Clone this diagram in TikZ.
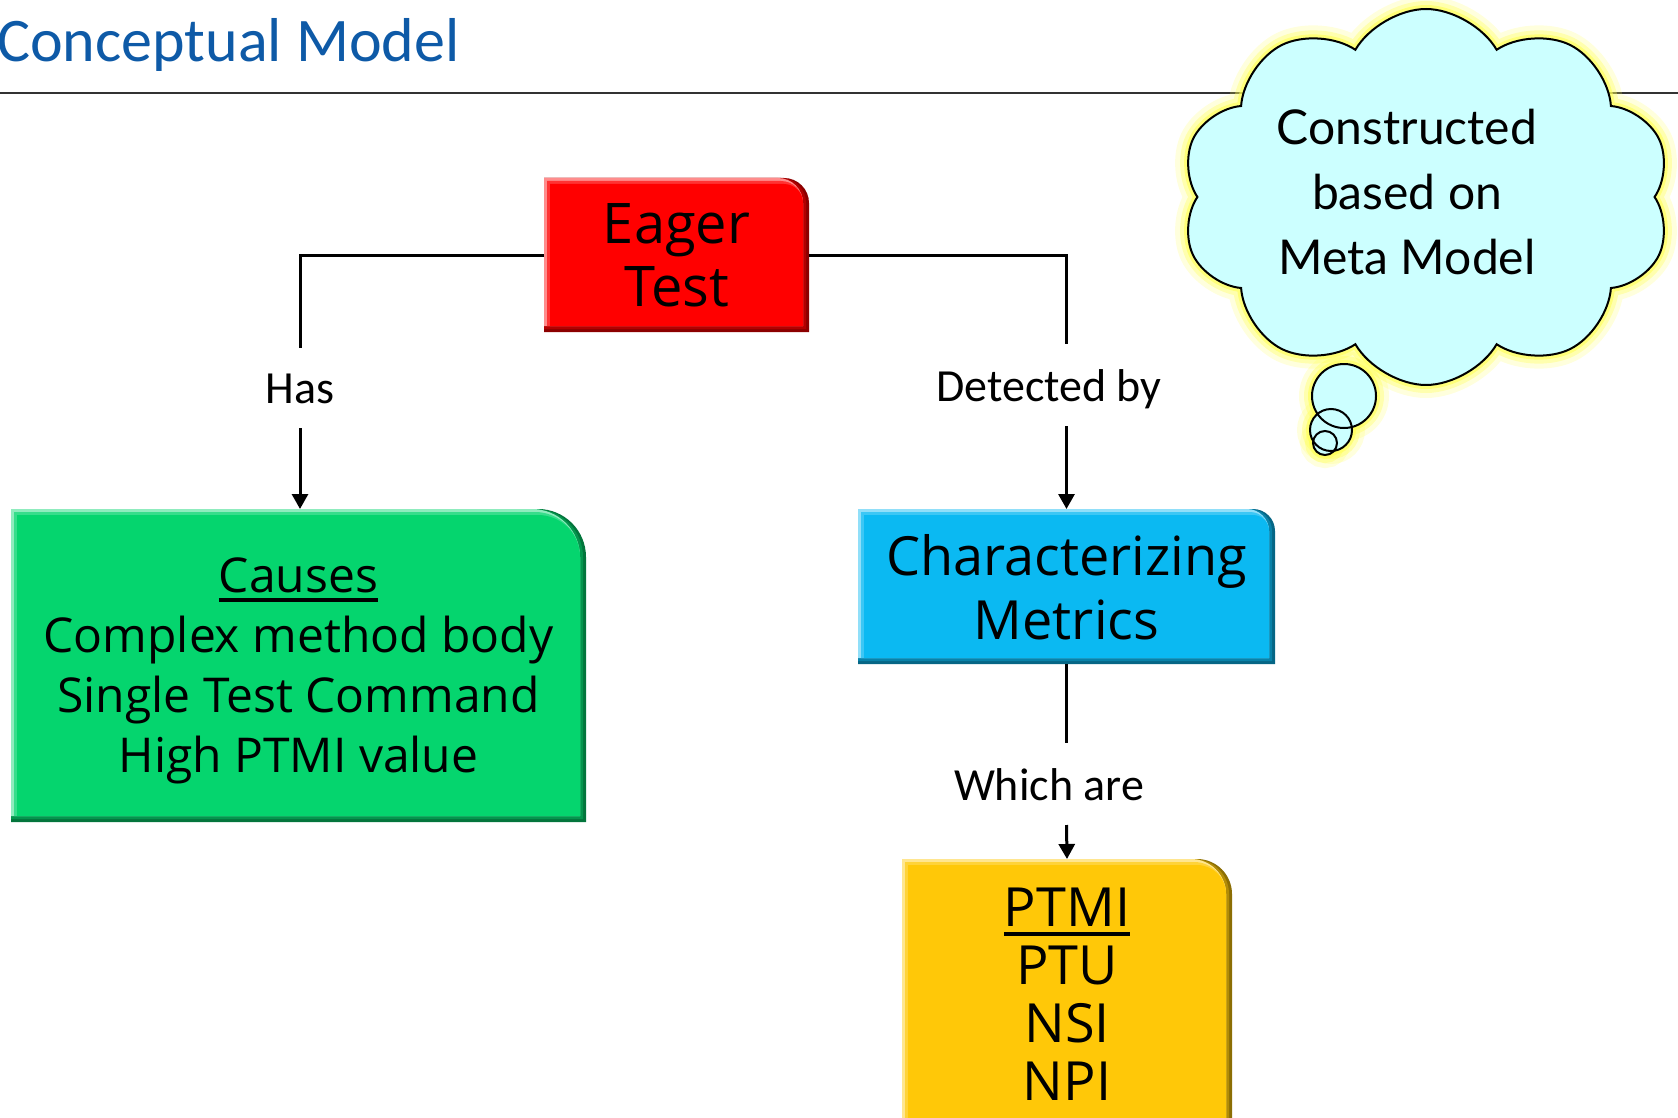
\documentclass[tikz,border=0pt]{standalone}
\usepackage{fontspec}
\usetikzlibrary{arrows.meta,calc,shapes.symbols}
\setmainfont{Open Sans}
\newfontfamily\calibrifont{Carlito}
\newfontfamily\handfont{Lato}
\definecolor{heading}{HTML}{0E5AA7}
\definecolor{rulegray}{HTML}{333333}
\definecolor{eagerred}{HTML}{FF0000}
\definecolor{causegreen}{HTML}{05D56E}
\definecolor{metricblue}{HTML}{0BB9F2}
\definecolor{ptmigold}{HTML}{FFC808}
\definecolor{cloudcyan}{HTML}{CCFFFF}
\definecolor{glowyellow}{HTML}{FFFF55}
% box with one rounded corner (top right); insets left/top/right/bottom, radius
\newcommand\tabpath[5]{%
  ([shift={(#1,#4)}]path picture bounding box.south west)
  |- ([shift={({-#3-(#5)},{-#2})}]path picture bounding box.north east)
  arc[start angle=90,end angle=0,radius={#5}]
  -- ([shift={(-#3,#4)}]path picture bounding box.south east) -- cycle}
\newcommand\ulword[1]{\setbox0=\hbox{#1}\rlap{\rule[-9pt]{\wd0}{3.5pt}}\box0}

\begin{document}
\begin{tikzpicture}[x=1pt,y=1pt,>={Triangle[width=16pt,length=15pt]},
  link/.style={line width=3pt},
  tag/.style={anchor=base,inner sep=0pt,outer sep=25pt,text depth=0pt,
    font=\calibrifont\fontsize{46}{50}\selectfont},
  tabbox/.style 2 args={rectangle,inner sep=0pt,outer sep=0pt,align=center,text depth=0pt,
    path picture={
      \fill[#1!55!black] \tabpath{0}{0}{0}{0}{#2};
      \fill[#1!70!black] \tabpath{0}{0}{3}{3}{#2};
      \fill[#1!45!white] \tabpath{0}{0}{6}{6}{#2};
      \fill[#1!80!white] \tabpath{3}{3}{6}{6}{#2-3};
      \fill[#1] \tabpath{6}{6}{6}{6}{#2-6};
    }},
  glow/.style={preaction={draw=glowyellow,line width=26pt,opacity=.2},
    preaction={draw=glowyellow,line width=16pt,opacity=.35},
    preaction={draw=glowyellow,line width=8pt,opacity=.6}},
  bubble/.style={circle,inner sep=0pt,outer sep=0pt,minimum size=#1}]
 \useasboundingbox (0,0) rectangle (1678,-1118);
 \node[anchor=base west,inner sep=0pt,text=heading,
   font=\calibrifont\fontsize{62}{70}\selectfont] (title) at (-3,-62) {Conceptual Model};
 \draw[line width=1.5pt,rulegray] (0,-93) -- (1678,-93);

 \node[tabbox={eagerred}{25},minimum width=265pt,minimum height=154pt,
   font=\fontsize{56}{63}\selectfont] (eager) at (676.5,-255) {Eager\\Test};
 \node[tabbox={causegreen}{48},minimum width=575pt,minimum height=313pt,
   font=\fontsize{48}{60}\selectfont] (causes) at (298.5,-665.5)
   {\ulword{Causes}\\Complex method body\\Single Test Command\\High PTMI value};
 \node[tabbox={metricblue}{22},minimum width=417pt,minimum height=155pt,
   font=\fontsize{54}{64}\selectfont] (metrics) at (1066.5,-586.5) {Characterizing\\Metrics};
 \node[tabbox={ptmigold}{35},minimum width=330pt,minimum height=271pt,
   font=\fontsize{54}{58}\selectfont] (ptmi) at (1067,-994.5) {\ulword{PTMI}\\PTU\\NSI\\NPI};

 \node[tag] (has) at (300,-403) {Has};
 \node[tag] (detected) at (1049,-401) {Detected by};
 \node[tag] (which) at (1049,-800) {Which are};

 \draw[link] (eager.west) -| (has.north);
 \draw[link,->] (has.south) -- (has.south |- causes.north);
 \draw[link] (eager.east) -| (metrics.north |- detected.north);
 \draw[link,->] (metrics.north |- detected.south) -- (metrics.north);
 \draw[link] (metrics.south) -- (metrics.south |- which.north);
 \draw[link,->] (metrics.south |- which.south) -- (ptmi.north);

 \foreach \cx/\cy/\r [count=\i] in {1344/396/32,1331/430/21,1325/443/12}
  \node[bubble=2*\r pt,glow] (bubble\i) at (\cx,-\cy) {};
 \node[cloud,cloud puffs=10,cloud puff arc=120,cloud ignores aspect,
   minimum width=490pt,minimum height=376pt,draw,line width=2pt,
   fill=cloudcyan,glow] (thought) at (1426,-197) {};
 \foreach \r [count=\i] in {32,21,12}
  \fill[cloudcyan] (bubble\i.center) circle[radius=\r];
 \foreach \r [count=\i] in {32,21,12}
  \draw[line width=2pt] (bubble\i.center) circle[radius=\r];
 \node[align=center,text depth=0pt,font=\handfont\fontsize{48}{65}\selectfont]
   (note) at (1407,-191.5) {Constructed\\based on\\Meta Model};
\end{tikzpicture}
\end{document}
